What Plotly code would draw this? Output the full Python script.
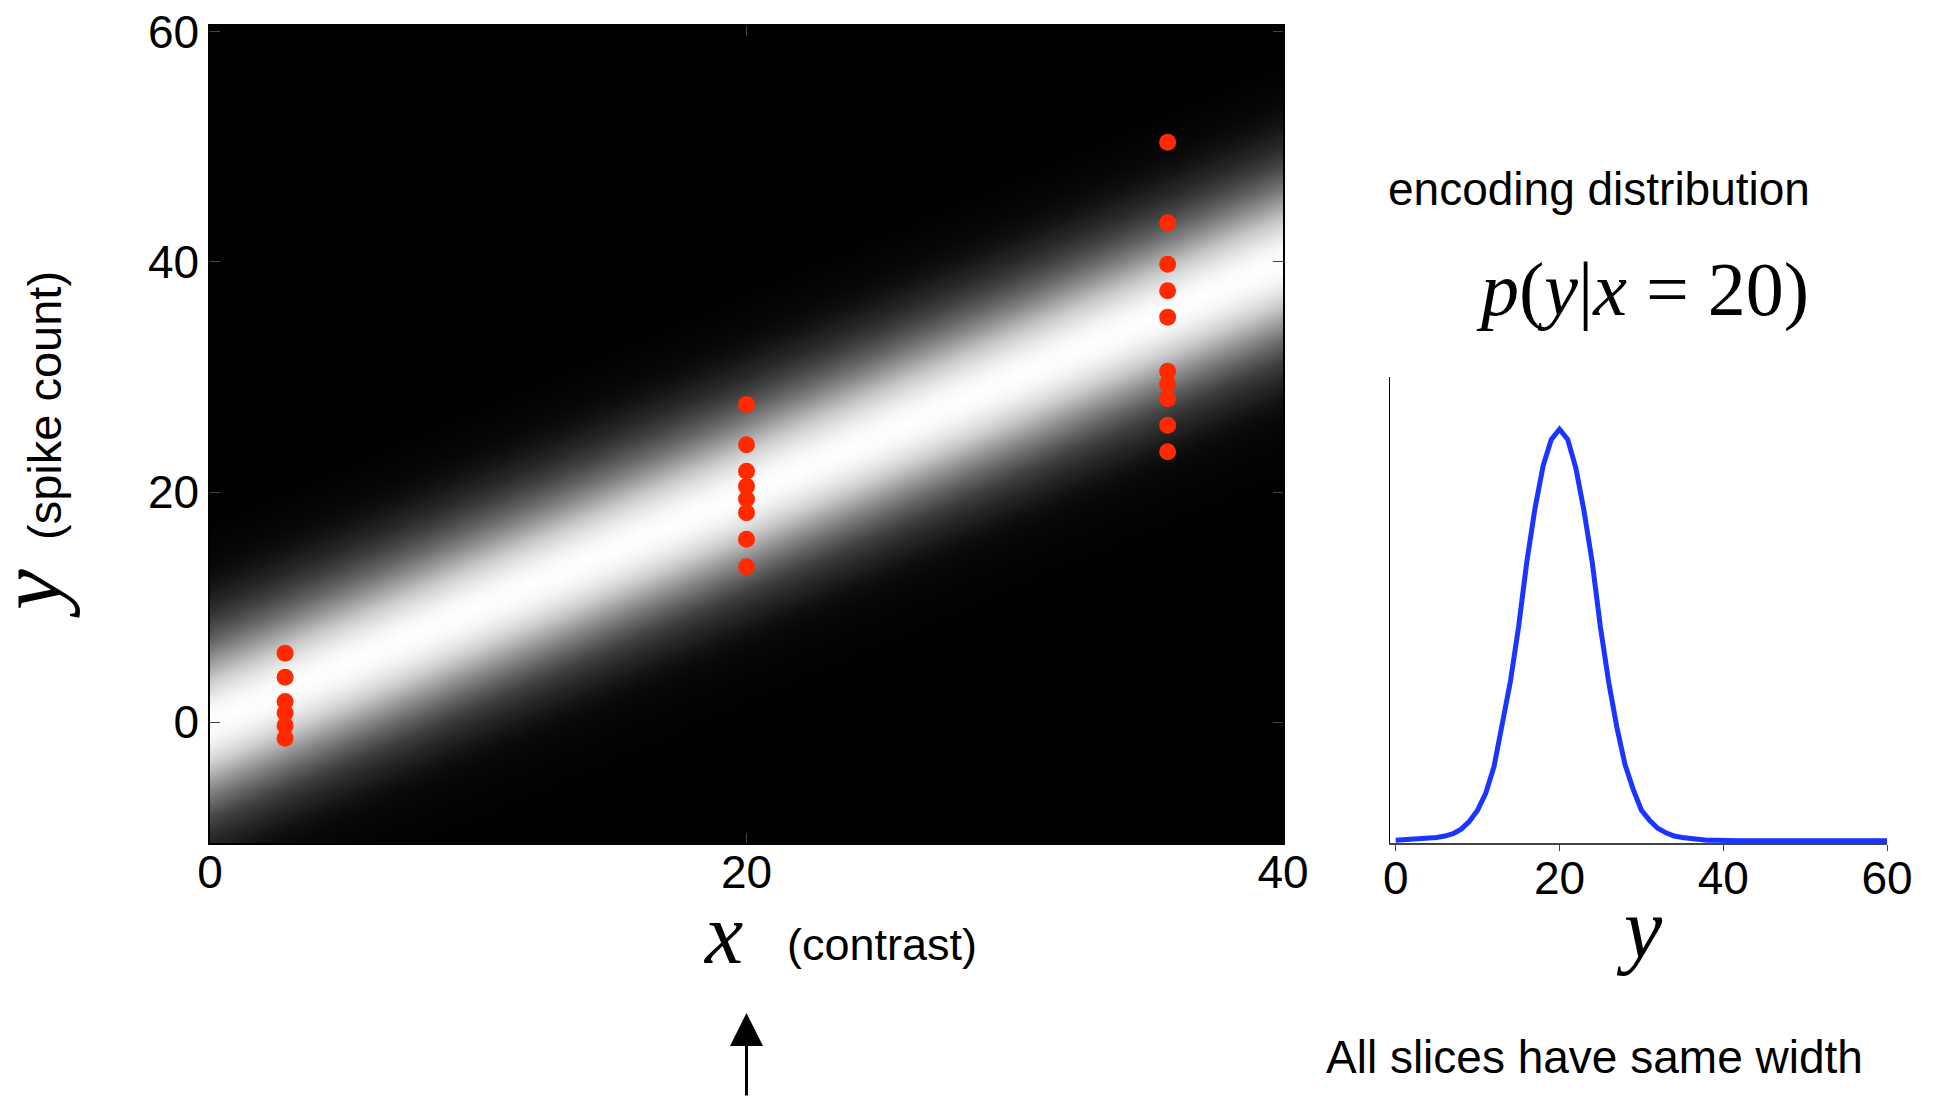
import plotly.graph_objects as go

W, H = 1935, 1097

# ---------------- data ----------------
# red sample points: three contrast values, spike counts observed at each
col_x = [2.8, 20.0, 35.7]
col1_y = [6.0, 3.9, 1.8, 0.8, -0.3, -1.4]
col2_y = [27.6, 24.1, 21.8, 20.5, 19.4, 18.2, 15.9, 13.5]
col3_y = [50.4, 43.4, 39.8, 37.5, 35.2, 30.5, 29.4, 28.1, 25.8, 23.5]

# encoding distribution slice p(y | x = 20), read at integer y
slice_y = list(range(0, 61))
slice_p = [0.0001, 0.0002, 0.0002, 0.0004, 0.0005, 0.0007, 0.0010, 0.0015, 0.0025, 0.0042,
           0.0066, 0.0103, 0.0160, 0.0246, 0.0344, 0.0462, 0.0602, 0.0718, 0.0811, 0.0868,
           0.0890, 0.0868, 0.0806, 0.0713, 0.0602, 0.0462, 0.0344, 0.0246, 0.0165, 0.0111,
           0.0066, 0.0044, 0.0027, 0.0017, 0.0010, 0.0007, 0.0005, 0.0002, 0.0001, 0.0001,
           0.0, 0.0, 0.0, 0.0, 0.0, 0.0, 0.0, 0.0, 0.0, 0.0,
           0.0, 0.0, 0.0, 0.0, 0.0, 0.0, 0.0, 0.0, 0.0, 0.0, 0.0]
slice_center = 20  # the slice is taken at x = 20

# heatmap grid (every column is the same slice, shifted so its centre follows y = x)
heat_x = list(range(0, 41))
heat_y = list(range(-10, 61))

main_xticks = [0, 20, 40]
main_yticks = [0, 20, 40, 60]
side_xticks = [0, 20, 40, 60]

# ---------------- build ----------------
z = []
for yy in heat_y:
    row = []
    for xx in heat_x:
        idx = yy - xx + slice_center
        row.append(slice_p[idx] if 0 <= idx < len(slice_p) else 0.0)
    z.append(row)

gray_scale = [[0.0, "rgb(0,0,0)"], [0.05, "rgb(31,31,31)"], [0.1, "rgb(51,51,51)"],
              [0.2, "rgb(83,83,83)"], [0.35, "rgb(122,122,122)"], [0.5, "rgb(157,157,157)"],
              [0.7, "rgb(199,199,199)"], [0.85, "rgb(227,227,227)"], [1.0, "rgb(255,255,255)"]]

fig = go.Figure()
fig.add_trace(go.Heatmap(x=heat_x, y=heat_y, z=z, zmin=0, zmax=max(slice_p),
                         colorscale=gray_scale, showscale=False,
                         zsmooth="best", hoverinfo="skip", xaxis="x", yaxis="y"))

pts_x = [col_x[0]] * len(col1_y) + [col_x[1]] * len(col2_y) + [col_x[2]] * len(col3_y)
pts_y = col1_y + col2_y + col3_y
fig.add_trace(go.Scatter(x=pts_x, y=pts_y, mode="markers",
                         marker=dict(size=17, color="#ff2a00", line=dict(width=0)),
                         xaxis="x", yaxis="y", showlegend=False, hoverinfo="skip"))

fig.add_trace(go.Scatter(x=slice_y, y=slice_p, mode="lines",
                         line=dict(color="#1a35ff", width=5),
                         xaxis="x2", yaxis="y2", showlegend=False, hoverinfo="skip"))

def px(xp):
    return xp / W

def py(yp):
    return 1 - yp / H

sans = "Liberation Sans, Arial, sans-serif"
serif = "Liberation Serif, Times New Roman, serif"

fig.update_layout(
    template="none",
    width=W, height=H, margin=dict(l=0, r=0, t=0, b=0, pad=0, autoexpand=False),
    paper_bgcolor="white", plot_bgcolor="white", showlegend=False,
    xaxis=dict(domain=[px(210), px(1283)], range=[0, 40], tickvals=main_xticks,
               ticks="inside", ticklen=10, tickcolor="#444", showline=True, linecolor="black",
               linewidth=1.5, mirror="ticks", showgrid=False, zeroline=False, automargin=False,
               tickfont=dict(family=sans, size=46, color="black"), ticklabelstandoff=-12),
    yaxis=dict(domain=[py(843), py(26)], range=[-10.5, 60.5], tickvals=main_yticks,
               ticks="inside", ticklen=10, tickcolor="#444", showline=True, linecolor="black",
               linewidth=1.5, mirror="ticks", showgrid=False, zeroline=False, automargin=False,
               tickfont=dict(family=sans, size=46, color="black"), ticklabelstandoff=0),
    xaxis2=dict(domain=[px(1390), px(1887)], range=[-0.7, 60], tickvals=side_xticks,
                anchor="y2", ticks="outside", ticklen=6, tickcolor="#444", showline=True,
                linecolor="#444", linewidth=1.5, showgrid=False, zeroline=False, automargin=False,
                tickfont=dict(family=sans, size=46, color="black"), ticklabelstandoff=-12),
    yaxis2=dict(domain=[py(843), py(377)], range=[-0.0005, 0.1003], anchor="x2",
                showticklabels=False, ticks="", showline=True, linecolor="black", linewidth=1,
                showgrid=False, zeroline=False, automargin=False),
)

anns = [
    dict(text="<i>x</i>", x=px(723), y=py(934), font=dict(family=serif, size=86)),
    dict(text="(contrast)", x=px(882), y=py(944), font=dict(family=sans, size=45)),
    dict(text="<i>y</i>", x=px(30), y=py(594), font=dict(family=serif, size=92), textangle=-90),
    dict(text="(spike count)", x=px(44), y=py(406), font=dict(family=sans, size=47), textangle=-90),
    dict(text="encoding distribution", x=px(1599), y=py(189), font=dict(family=sans, size=46)),
    dict(text="<i>p</i>(<i>y</i>|<i>x</i> = 20)", x=px(1642), y=py(290), font=dict(family=serif, size=76)),
    dict(text="<i>y</i>", x=px(1639), y=py(928), font=dict(family=serif, size=86)),
    dict(text="All slices have same width", x=px(1594), y=py(1057), font=dict(family=sans, size=46)),
]
for a in anns:
    a.update(xref="paper", yref="paper", showarrow=False, xanchor="center", yanchor="middle")
    a["font"]["color"] = "black"
    fig.add_annotation(**a)

fig.add_annotation(x=20, xref="x", y=py(1013), yref="paper", text="", showarrow=True,
                   ax=0, ay=100, arrowhead=2, arrowsize=2.2, arrowwidth=3, arrowcolor="black")

fig.write_html("out.html")
